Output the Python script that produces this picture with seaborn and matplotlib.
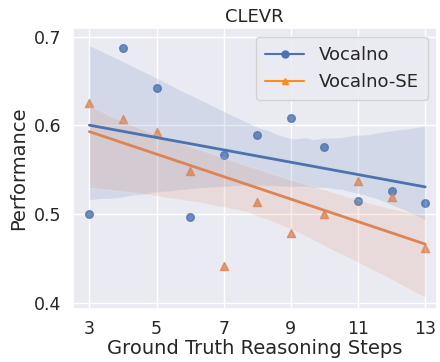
import numpy as np
import pandas as pd
import matplotlib
matplotlib.use("Agg")
import matplotlib.pyplot as plt
import seaborn as sns
from matplotlib.lines import Line2D

steps = [3, 4, 5, 6, 7, 8, 9, 10, 11, 12, 13]
vocalno = [0.500, 0.687, 0.642, 0.497, 0.567, 0.589, 0.608, 0.576, 0.515, 0.526, 0.512]
vocalno_se = [0.625, 0.607, 0.593, 0.549, 0.441, 0.513, 0.478, 0.500, 0.537, 0.519, 0.462]
xticks = [3, 5, 7, 9, 11, 13]
yticks = [0.4, 0.5, 0.6, 0.7]

sns.set_theme(style="darkgrid")
plt.rcParams['font.family'] = ['DejaVu Sans']

df = pd.DataFrame({'steps': steps, 'Vocalno': vocalno, 'Vocalno-SE': vocalno_se})

fig, ax = plt.subplots(figsize=(4.4, 3.62), dpi=100)
blue, orange = sns.color_palette("deep")[0], sns.color_palette("deep")[1]

sns.regplot(data=df, x='steps', y='Vocalno', ax=ax, color=blue, marker='o',
            scatter_kws={'s': 30}, line_kws={'lw': 2}, seed=0)
sns.regplot(data=df, x='steps', y='Vocalno-SE', ax=ax, color=orange, marker='^',
            scatter_kws={'s': 34}, line_kws={'lw': 2}, seed=0)

handles = [Line2D([], [], color='#4c72b0', marker='o', markersize=5, lw=1.5),
           Line2D([], [], color='#ff8c1a', marker='^', markersize=5, lw=1.5)]
ax.legend(handles, ['Vocalno', 'Vocalno-SE'], loc='upper right', fontsize=13,
          handlelength=2.2, borderpad=0.5, labelspacing=0.5)

ax.set_xlim(2.5, 13.35)
ax.set_ylim(0.393, 0.71)
ax.set_xticks(xticks)
ax.set_yticks(yticks)
ax.tick_params(labelsize=12.5, pad=2)
ax.set_xlabel('Ground Truth Reasoning Steps', fontsize=14, labelpad=1)
ax.set_ylabel('Performance', fontsize=14, labelpad=4)
ax.set_title('CLEVR', fontsize=13, pad=4)

fig.subplots_adjust(left=0.165, right=0.993, top=0.923, bottom=0.147)
fig.savefig('out.png', dpi=100)
